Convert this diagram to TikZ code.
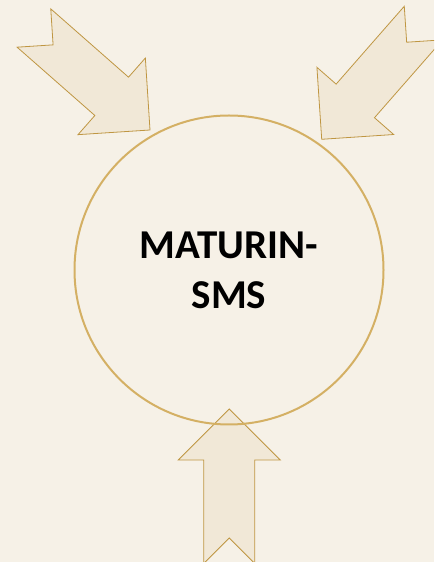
\documentclass[tikz,border=0pt]{standalone}
\usepackage{fontspec}
\setmainfont{Carlito}
\definecolor{fondo}{HTML}{F6F1E7}
\definecolor{relleno}{HTML}{F1E8D7}
\definecolor{borde}{HTML}{BF9642}
\definecolor{anillo}{HTML}{D4B064}
\tikzset{
  flecha/.pic={
    \draw[borde, fill=relleno, line width=0.8pt]
      (0,0) -- (-51,51) -- (-51,25.5) -- (-154.5,25.5) -- (-129,0)
      -- (-154.5,-25.5) -- (-51,-25.5) -- (-51,-51) -- cycle;
  }
}
\begin{document}
\begin{tikzpicture}[x=1pt,y=1pt]
      % Fondo
      \fill[fondo] (0,0) rectangle (434,562);
      \useasboundingbox (0,0) rectangle (434,562);
      \clip (0,0) rectangle (434,562);

      % Flechas hacia el centro
      \pic[rotate=-41.3] at (150,432) {flecha};
      \pic[rotate=-131.2] at (321.7,422.7) {flecha};
      \pic[rotate=90] at (229.3,153) {flecha};

      % Circulo central
      \node[circle, draw=anillo, line width=2pt, minimum size=309pt, inner sep=0pt,
            align=center, font=\fontsize{41}{50}\selectfont\bfseries]
        (sms) at (229,292) {MATURIN-\\SMS};
\end{tikzpicture}
\end{document}
